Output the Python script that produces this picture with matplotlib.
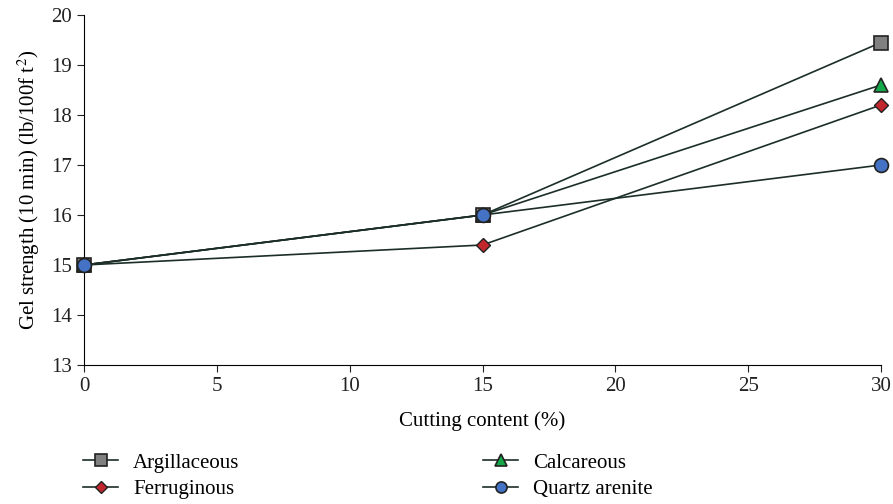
import matplotlib
matplotlib.use("Agg")
import matplotlib.pyplot as plt

plt.rcParams['font.family'] = ['Liberation Serif', 'DejaVu Serif']
plt.rcParams['mathtext.fontset'] = 'stix'

cutting = [0, 15, 30]
argillaceous = [15, 16, 19.45]
calcareous = [15, 16, 18.6]
ferruginous = [15, 15.4, 18.2]
quartz_arenite = [15, 16, 17.0]

line_color = '#1c2e28'
edge = '#222222'

fig = plt.figure(figsize=(8.93, 5.04), dpi=100)
ax = fig.add_axes([84 / 893, 1 - 365 / 504, (881 - 84) / 893, (365 - 15) / 504])

ax.plot(cutting, argillaceous, color=line_color, lw=1.2, marker='s', ms=10,
        mfc='#808080', mec=edge, mew=1.2, label='Argillaceous', zorder=3)
ax.plot(cutting, calcareous, color=line_color, lw=1.2, marker='^', ms=10,
        mfc='#14a84b', mec=edge, mew=1.2, label='Calcareous', zorder=3)
ax.plot(cutting, ferruginous, color=line_color, lw=1.2, marker='D', ms=7.5,
        mfc='#c1272d', mec=edge, mew=1.0, label='Ferruginous', zorder=3)
ax.plot(cutting, quartz_arenite, color=line_color, lw=1.2, marker='o', ms=10,
        mfc='#4472c4', mec=edge, mew=1.2, label='Quartz arenite', zorder=4)

ax.set_xlim(0, 30)
ax.set_ylim(13, 20)
ax.set_xticks(range(0, 31, 5))
ax.set_yticks(range(13, 21))
ax.spines['top'].set_visible(False)
ax.spines['right'].set_visible(False)
ax.tick_params(direction='out', length=5, labelsize=15, colors='#222222')
ax.set_xlabel('Cutting content (%)', fontsize=15, labelpad=11)
ax.set_ylabel('Gel strength (10 min) (lb/100f t$^{2}$)', fontsize=15, labelpad=7)
for c in ax.get_children():
    if hasattr(c, 'set_clip_on'):
        c.set_clip_on(False)

handles, labels = ax.get_legend_handles_labels()
leg_kw = dict(loc='upper left', frameon=False, fontsize=15, handlelength=1.7,
              handletextpad=0.7, labelspacing=0.35, markerscale=0.8,
              borderaxespad=0, borderpad=0)
fig.legend([handles[0], handles[2]], [labels[0], labels[2]],
           bbox_to_anchor=(83 / 893, 1 - 453 / 504), **leg_kw)
fig.legend([handles[1], handles[3]], [labels[1], labels[3]],
           bbox_to_anchor=(483 / 893, 1 - 453 / 504), **leg_kw)

fig.savefig('out.png', dpi=100)
